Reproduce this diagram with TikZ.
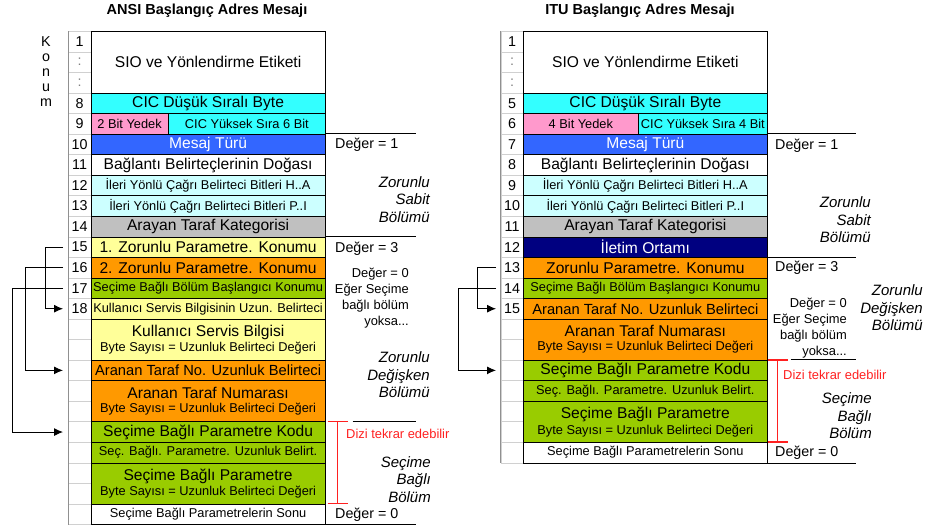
\documentclass[tikz,border=0pt]{standalone}
\usepackage{fontspec}
\setmainfont{Liberation Sans}
\usetikzlibrary{arrows.meta}

% cell colours
\definecolor{cicCyan}{HTML}{33FFFF}
\definecolor{spPink}{HTML}{FF99CC}
\definecolor{msgBlue}{HTML}{3366FF}
\definecolor{fwdCyan}{HTML}{CCFFFF}
\definecolor{catGray}{HTML}{C0C0C0}
\definecolor{paleYel}{HTML}{FFFF99}
\definecolor{parOrg}{HTML}{FF9900}
\definecolor{optGrn}{HTML}{99CC00}
\definecolor{tmrNavy}{HTML}{000080}
\definecolor{gridGray}{HTML}{D0D0D0}
\definecolor{edgeGray}{HTML}{909090}
\definecolor{repRed}{HTML}{FF2020}

% type sizes
\newcommand\fBig{\fontsize{15.6}{17}\selectfont}
\newcommand\fMid{\fontsize{14.7}{17}\selectfont}
\newcommand\fSml{\fontsize{12.8}{15}\selectfont}
\newcommand\fNum{\fontsize{14.3}{16}\selectfont}
\newcommand\fSide{\fontsize{14.3}{16}\selectfont}
\newcommand\fNote{\fontsize{12.9}{16}\selectfont}
\newcommand\fPart{\itshape\fontsize{15}{17.4}\selectfont}
\newcommand\fTitle{\bfseries\fontsize{14.5}{16}\selectfont}

% one content cell: name, x-left, x-right, first row, row after last, style, text
\newcommand\tcell[7]{%
  \node[cellbox,#6,minimum width={#3-#2},minimum height={(#5-#4)*20.55},anchor=north west]
    (#1) at ({#2},{31+#4*20.55}) {#7};}

\tikzset{
  cellbox/.style={draw=black,line width=0.7pt,inner sep=0pt,align=center,text=black},
  numbox/.style={draw=gridGray,line width=0.6pt,inner sep=0pt,font=\fNum,
    minimum width=22.5pt,minimum height=20.55pt,anchor=north west},
  conn/.style={line width=0.9pt,-{Latex[length=9pt,width=8pt]}},
  sideline/.style={line width=0.9pt},
  bracket/.style={draw=repRed,line width=1.4pt},
  sidetext/.style={font=\fSide,anchor=west,inner sep=0pt},
  notetext/.style={font=\fNote,align=right,anchor=east,inner sep=0pt},
  parttext/.style={font=\fPart,align=right,anchor=east,inner sep=0pt},
  reptext/.style={font=\fNote,text=repRed,anchor=west,inner sep=0pt},
}

\begin{document}
\begin{tikzpicture}[x=1pt,y=-1pt]
\useasboundingbox (0,0) rectangle (927,530);

% ---------------- titles ----------------
\node[font=\fTitle] (lTitle) at (207,11) {ANSI Başlangıç Adres Mesajı};
\node[font=\fTitle] (rTitle) at (640,11) {ITU Başlangıç Adres Mesajı};

% vertical "Konum" caption
\foreach \c/\yy [count=\i] in {K/46,o/61,n/76,u/91,m/106}
  \node[font=\fNum,anchor=base,inner sep=0pt] (konum\i) at (46,\yy) {\c};

% ---------------- ANSI: position column ----------------
\foreach \k in {0,...,23}{
  \ifnum\k=0 \def\lbl{1}\else\ifnum\k<3 \def\lbl{\textcolor{gray}{:}}\else
    \ifnum\k<14 \pgfmathtruncatemacro\lbl{\k+5}\else\def\lbl{}\fi\fi\fi
  \node[numbox] (lN\k) at (68,{31+\k*20.55}) {\lbl};
}
\draw[edgeGray,line width=0.7pt] (lN0.north west) -- (lN23.south west);

% ---------------- ANSI: fields ----------------
\tcell{lSio}{90.5}{325}{0}{3}{fill=white}{\fBig SIO ve Yönlendirme Etiketi}
\tcell{lCicLo}{90.5}{325}{3}{4}{fill=cicCyan}{\fBig CIC Düşük Sıralı Byte}
\tcell{lSpare}{90.5}{168}{4}{5}{fill=spPink}{\fSml 2 Bit Yedek}
\tcell{lCicHi}{168}{325}{4}{5}{fill=cicCyan}{\fSml CIC Yüksek Sıra 6 Bit}
\tcell{lMsg}{90.5}{325}{5}{6}{fill=msgBlue,text=white}{\fBig Mesaj Türü}
\tcell{lNat}{90.5}{325}{6}{7}{fill=white}{\fBig Bağlantı Belirteçlerinin Doğası}
\tcell{lFwdA}{90.5}{325}{7}{8}{fill=fwdCyan}{\fSml İleri Yönlü Çağrı Belirteci Bitleri H..A}
\tcell{lFwdB}{90.5}{325}{8}{9}{fill=fwdCyan}{\fSml İleri Yönlü Çağrı Belirteci Bitleri P..I}
\tcell{lCat}{90.5}{325}{9}{10}{fill=catGray}{\fBig Arayan Taraf Kategorisi}
\tcell{lPtrA}{90.5}{325}{10}{11}{fill=paleYel}{\fBig 1. Zorunlu Parametre. Konumu}
\tcell{lPtrB}{90.5}{325}{11}{12}{fill=parOrg}{\fBig 2. Zorunlu Parametre. Konumu}
\tcell{lPtrO}{90.5}{325}{12}{13}{fill=optGrn}{\fSml Seçime Bağlı Bölüm Başlangıcı Konumu}
\tcell{lUsiLen}{90.5}{325}{13}{14}{fill=paleYel}{\fSml Kullanıcı Servis Bilgisinin Uzun. Belirteci}
\tcell{lUsi}{90.5}{325}{14}{16}{fill=paleYel}{\fBig Kullanıcı Servis Bilgisi\\[2pt]\fSml Byte Sayısı = Uzunluk Belirteci Değeri}
\tcell{lCdLen}{90.5}{325}{16}{17}{fill=parOrg}{\fMid Aranan Taraf No. Uzunluk Belirteci}
\tcell{lCd}{90.5}{325}{17}{19}{fill=parOrg}{\fBig Aranan Taraf Numarası\\[2pt]\fSml Byte Sayısı = Uzunluk Belirteci Değeri}
\tcell{lOptCode}{90.5}{325}{19}{20}{fill=optGrn}{\fBig Seçime Bağlı Parametre Kodu}
\tcell{lOptLen}{90.5}{325}{20}{21}{fill=optGrn}{\fSml Seç. Bağlı. Parametre. Uzunluk Belirt.}
\tcell{lOpt}{90.5}{325}{21}{23}{fill=optGrn}{\fBig Seçime Bağlı Parametre\\[2pt]\fSml Byte Sayısı = Uzunluk Belirteci Değeri}
\tcell{lEnd}{90.5}{325}{23}{24}{fill=white}{\fSml Seçime Bağlı Parametrelerin Sonu}

% ANSI pointers
\draw[conn] ([xshift=-5pt]lN10.west) -- ++(-18,0) |- ([xshift=-5pt]lN13.west);
\draw[conn] ([xshift=-5pt]lN11.west) -- ++(-38,0) |- ([xshift=-5pt]lN16.west);
\draw[conn] ([xshift=-5pt]lN12.west) -- ++(-51,0) |- ([xshift=-5pt]lN19.west);

% ANSI part markers
\draw[sideline] (lMsg.north east) -- ++(90,0);
\draw[sideline] (lPtrA.north east) -- ++(90,0);
\draw[sideline] ([xshift=27pt]lOptCode.north east) -- ++(63,0);
\draw[sideline] (lEnd.south east) -- ++(90,0);

\coordinate (lbT) at ([xshift=12pt]lOptCode.north east);
\coordinate (lbB) at ([xshift=12pt]lEnd.north east);
\draw[bracket] (lbT) -- (lbB);
\draw[bracket] ([xshift=-10pt]lbT) -- ([xshift=10pt]lbT);
\draw[bracket] ([xshift=-10pt]lbB) -- ([xshift=10pt]lbB);

\node[sidetext] (lV1) at (335,145) {Değer = 1};
\node[parttext] (lFix) at (430,199.5) {Zorunlu\\Sabit\\Bölümü};
\node[sidetext] (lV3) at (335,249) {Değer = 3};
\node[notetext] (lV0a) at (409,298.5) {Değer = 0\\Eğer Seçime\\bağlı bölüm\\yoksa...};
\node[parttext] (lVar) at (430,375) {Zorunlu\\Değişken\\Bölümü};
\node[reptext] (lRep) at (346,434) {Dizi tekrar edebilir};
\node[parttext] (lOptP) at (431,479.5) {Seçime\\Bağlı\\Bölüm};
\node[sidetext] (lV0b) at (335,515) {Değer = 0};

% ---------------- ITU: position column ----------------
\foreach \k in {0,...,20}{
  \ifnum\k=0 \def\lbl{1}\else\ifnum\k<3 \def\lbl{\textcolor{gray}{:}}\else
    \ifnum\k<14 \pgfmathtruncatemacro\lbl{\k+2}\else\def\lbl{}\fi\fi\fi
  \node[numbox] (rN\k) at (500.5,{31+\k*20.55}) {\lbl};
}
\draw[edgeGray,line width=0.7pt] (rN0.north west) -- (rN20.south west);

% ---------------- ITU: fields ----------------
\tcell{rSio}{523}{767}{0}{3}{fill=white}{\fBig SIO ve Yönlendirme Etiketi}
\tcell{rCicLo}{523}{767}{3}{4}{fill=cicCyan}{\fBig CIC Düşük Sıralı Byte}
\tcell{rSpare}{523}{638}{4}{5}{fill=spPink}{\fSml 4 Bit Yedek}
\tcell{rCicHi}{638}{767}{4}{5}{fill=cicCyan}{\fSml CIC Yüksek Sıra 4 Bit}
\tcell{rMsg}{523}{767}{5}{6}{fill=msgBlue,text=white}{\fBig Mesaj Türü}
\tcell{rNat}{523}{767}{6}{7}{fill=white}{\fBig Bağlantı Belirteçlerinin Doğası}
\tcell{rFwdA}{523}{767}{7}{8}{fill=fwdCyan}{\fSml İleri Yönlü Çağrı Belirteci Bitleri H..A}
\tcell{rFwdB}{523}{767}{8}{9}{fill=fwdCyan}{\fSml İleri Yönlü Çağrı Belirteci Bitleri P..I}
\tcell{rCat}{523}{767}{9}{10}{fill=catGray}{\fBig Arayan Taraf Kategorisi}
\tcell{rTmr}{523}{767}{10}{11}{fill=tmrNavy,text=white}{\fBig İletim Ortamı}
\tcell{rPtr}{523}{767}{11}{12}{fill=parOrg}{\fBig Zorunlu Parametre. Konumu}
\tcell{rPtrO}{523}{767}{12}{13}{fill=optGrn}{\fSml Seçime Bağlı Bölüm Başlangıcı Konumu}
\tcell{rCdLen}{523}{767}{13}{14}{fill=parOrg}{\fMid Aranan Taraf No. Uzunluk Belirteci}
\tcell{rCd}{523}{767}{14}{16}{fill=parOrg}{\fBig Aranan Taraf Numarası\\[2pt]\fSml Byte Sayısı = Uzunluk Belirteci Değeri}
\tcell{rOptCode}{523}{767}{16}{17}{fill=optGrn}{\fBig Seçime Bağlı Parametre Kodu}
\tcell{rOptLen}{523}{767}{17}{18}{fill=optGrn}{\fSml Seç. Bağlı. Parametre. Uzunluk Belirt.}
\tcell{rOpt}{523}{767}{18}{20}{fill=optGrn}{\fBig Seçime Bağlı Parametre\\[2pt]\fSml Byte Sayısı = Uzunluk Belirteci Değeri}
\tcell{rEnd}{523}{767}{20}{21}{fill=white}{\fSml Seçime Bağlı Parametrelerin Sonu}

% ITU pointers
\draw[conn] ([xshift=-4.5pt]rN11.west) -- ++(-19,0) |- ([xshift=-4.5pt]rN13.west);
\draw[conn] ([xshift=-4.5pt]rN12.west) -- ++(-38,0) |- ([xshift=-4.5pt]rN16.west);

% ITU part markers
\draw[sideline] (rMsg.north east) -- ++(88,0);
\draw[sideline] (rPtr.north east) -- ++(88,0);
\draw[sideline] ([xshift=23pt]rOptCode.north east) -- ++(65,0);
\draw[sideline] (rEnd.south east) -- ++(88,0);

\coordinate (rbT) at ([xshift=10pt]rOptCode.north east);
\coordinate (rbB) at ([xshift=10pt]rEnd.north east);
\draw[bracket] (rbT) -- (rbB);
\draw[bracket] ([xshift=-10pt]rbT) -- ([xshift=10pt]rbT);
\draw[bracket] ([xshift=-10pt]rbB) -- ([xshift=10pt]rbB);

\node[sidetext] (rV1) at (775,146) {Değer = 1};
\node[parttext] (rFix) at (871,220) {Zorunlu\\Sabit\\Bölümü};
\node[sidetext] (rV3) at (775,268) {Değer = 3};
\node[parttext] (rVar) at (923,308) {Zorunlu\\Değişken\\Bölümü};
\node[notetext] (rV0a) at (847,328) {Değer = 0\\Eğer Seçime\\bağlı bölüm\\yoksa...};
\node[reptext] (rRep) at (783,375) {Dizi tekrar edebilir};
\node[parttext] (rOptP) at (872,416) {Seçime\\Bağlı\\Bölüm};
\node[sidetext] (rV0b) at (775,453) {Değer = 0};
\end{tikzpicture}
\end{document}
